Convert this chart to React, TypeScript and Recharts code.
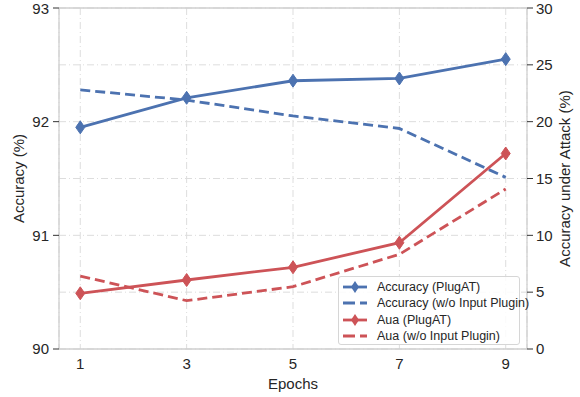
import { LineChart, Line, XAxis, YAxis, CartesianGrid, ReferenceLine } from 'recharts'

const epochs = [1, 3, 5, 7, 9]
const accPlugAT = [91.95, 92.21, 92.36, 92.38, 92.55]
const accNoPlugin = [92.28, 92.19, 92.05, 91.94, 91.51]
const auaPlugAT = [4.9, 6.07, 7.19, 9.35, 17.2]
const auaNoPlugin = [6.42, 4.25, 5.48, 8.33, 14.08]
const leftTicks = [90, 91, 92, 93]
const rightTicks = [0, 5, 10, 15, 20, 25, 30]

const BLUE = '#4C72B0'
const RED = '#CD5357'
const SPINE = '#cfcfcf'
const FONT = '"Liberation Sans", Arial, sans-serif'
const DASH = '10 5'

const data = epochs.map((e, i) => ({
  epoch: e,
  accPlugAT: accPlugAT[i],
  accNoPlugin: accNoPlugin[i],
  auaPlugAT: auaPlugAT[i],
  auaNoPlugin: auaNoPlugin[i],
}))

const diamond = (color: string) => (props: any) => {
  const { cx, cy, index } = props
  if (cx == null || cy == null) return <g key={index} />
  return (
    <path
      key={index}
      d={`M${cx},${cy - 6.5} L${cx + 4.5},${cy} L${cx},${cy + 6.5} L${cx - 4.5},${cy} Z`}
      fill={color}
      stroke={color}
      strokeWidth={1}
    />
  )
}

const tickStyle = { fontSize: 15, fill: '#262626', fontFamily: FONT }

const legendItems = [
  { name: 'Accuracy (PlugAT)', color: BLUE, dashed: false },
  { name: 'Accuracy (w/o Input Plugin)', color: BLUE, dashed: true },
  { name: 'Aua (PlugAT)', color: RED, dashed: false },
  { name: 'Aua (w/o Input Plugin)', color: RED, dashed: true },
]

export default function App() {
  return (
    <div style={{ position: 'absolute', left: 0, top: 0, width: 580, height: 397, background: '#fff' }}>
      <LineChart width={580} height={397} data={data} margin={{ top: 8, right: 0, bottom: 0, left: 0 }}>
        <CartesianGrid yAxisId="right" stroke="#dddddd" strokeDasharray="7 3 1 3" />
        <XAxis
          dataKey="epoch"
          type="number"
          domain={[0.6, 9.4]}
          ticks={epochs}
          height={48}
          tickLine={false}
          tickSize={6}
          tickMargin={3}
          axisLine={{ stroke: SPINE, strokeWidth: 1.3 }}
          tick={tickStyle}
          label={{ value: 'Epochs', position: 'insideBottom', offset: 8, style: { fontSize: 15, fill: '#262626', fontFamily: FONT } }}
        />
        <YAxis
          yAxisId="left"
          orientation="left"
          width={59}
          domain={[90, 93]}
          ticks={leftTicks}
          tickSize={6}
          tickMargin={4}
          tickLine={{ stroke: '#333' }}
          axisLine={{ stroke: SPINE, strokeWidth: 1.3 }}
          tick={tickStyle}
          label={{
            value: 'Accuracy (%)',
            angle: -90,
            position: 'insideLeft',
            offset: 19,
            style: { textAnchor: 'middle', fontSize: 15, fill: '#262626', fontFamily: FONT },
          }}
        />
        <YAxis
          yAxisId="right"
          orientation="right"
          width={53}
          domain={[0, 30]}
          ticks={rightTicks}
          tickSize={6}
          tickMargin={3}
          tickLine={{ stroke: '#333' }}
          axisLine={{ stroke: SPINE, strokeWidth: 1.3 }}
          tick={tickStyle}
          label={{
            value: 'Accuracy under Attack (%)',
            angle: -90,
            position: 'insideRight',
            offset: 15,
            style: { textAnchor: 'middle', fontSize: 15, fill: '#262626', fontFamily: FONT },
          }}
        />
        <ReferenceLine yAxisId="left" y={93} stroke={SPINE} strokeWidth={1.3} />
        <Line yAxisId="left" dataKey="accNoPlugin" stroke={BLUE} strokeWidth={2.8} strokeDasharray={DASH} dot={false} activeDot={false} isAnimationActive={false} />
        <Line yAxisId="left" dataKey="accPlugAT" stroke={BLUE} strokeWidth={2.8} dot={diamond(BLUE)} activeDot={false} isAnimationActive={false} />
        <Line yAxisId="right" dataKey="auaNoPlugin" stroke={RED} strokeWidth={2.8} strokeDasharray={DASH} dot={false} activeDot={false} isAnimationActive={false} />
        <Line yAxisId="right" dataKey="auaPlugAT" stroke={RED} strokeWidth={2.8} dot={diamond(RED)} activeDot={false} isAnimationActive={false} />
      </LineChart>

      {/* legend box, lower right */}
      <div
        style={{
          position: 'absolute',
          left: 338,
          top: 276,
          width: 182,
          height: 69,
          boxSizing: 'border-box',
          border: '1px solid #d6d6d6',
          borderRadius: 3,
          background: 'rgba(255,255,255,0.85)',
          padding: '2px 0 0 3px',
          fontFamily: FONT,
          fontSize: 12.5,
          color: '#262626',
        }}
      >
        {legendItems.map((item) => (
          <div key={item.name} style={{ display: 'flex', alignItems: 'center', height: 16.3 }}>
            <svg width={26} height={14} style={{ flex: 'none' }}>
              <line
                x1={1}
                y1={7}
                x2={25}
                y2={7}
                stroke={item.color}
                strokeWidth={2.8}
                strokeDasharray={item.dashed ? '12 5' : undefined}
              />
              {!item.dashed && <path d="M13,1 L17,7 L13,13 L9,7 Z" fill={item.color} />}
            </svg>
            <span style={{ marginLeft: 9, whiteSpace: 'nowrap' }}>{item.name}</span>
          </div>
        ))}
      </div>
    </div>
  )
}
